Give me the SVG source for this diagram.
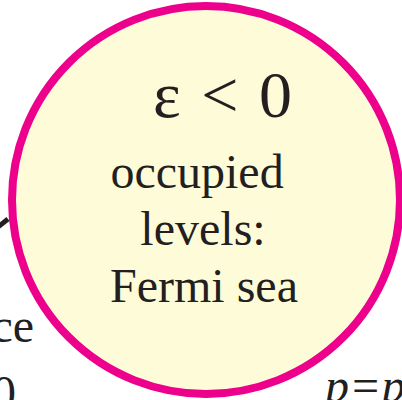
<svg xmlns="http://www.w3.org/2000/svg" width="402" height="400" viewBox="0 0 402 400">
<style>
.t{font-family:"Liberation Serif","Times New Roman",serif;fill:#231F20;font-size:48px}
.big{font-size:66px;word-spacing:4px}
.c{text-anchor:middle}
.i{font-style:italic}
</style>
<rect width="402" height="400" fill="#FFFFFF"/>
<g id="connectors">
<line x1="-2" y1="227" x2="8" y2="219" stroke="#231F20" stroke-width="5"/>
</g>
<g id="outside-labels">
<text class="t" x="34" y="342" text-anchor="end">ce</text>
<text class="t" x="16" y="409" text-anchor="end">0</text>
<text class="t i" x="325" y="402">p=p</text>
</g>
<g id="fermi-sea">
<circle cx="206" cy="200" r="194" fill="#FEFBD8" stroke="#EC008C" stroke-width="8"/>
<text class="t big" x="153" y="117">ε &lt; 0</text>
<text class="t c" x="197" y="188">occupied</text>
<text class="t c" x="203" y="245">levels:</text>
<text class="t c" x="204" y="302">Fermi sea</text>
</g>
</svg>
